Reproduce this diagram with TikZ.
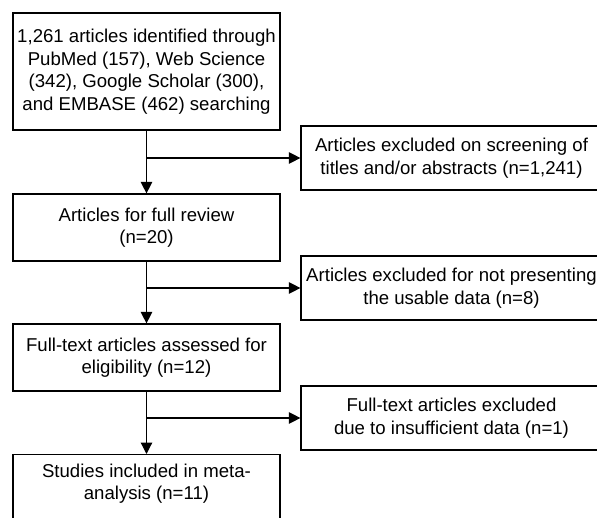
\documentclass[tikz,border=0pt]{standalone}
\usepackage{fontspec}
\setmainfont{Liberation Sans}
\usetikzlibrary{arrows.meta}
\begin{document}
\begin{tikzpicture}[x=1pt,y=-1pt,
  box/.style={draw=black,line width=1.2pt,rectangle,inner sep=0pt,align=center,
    font=\fontsize{18.6}{22.5}\selectfont},
  txt/.style={inner sep=0pt,align=center,font=\fontsize{18.6}{22.5}\selectfont},
  arr/.style={line width=1.2pt,-{Triangle[length=11.5pt,width=11.5pt]}},
  ln/.style={line width=1.2pt}]
\useasboundingbox (0,0) rectangle (597,518);
\clip (0,0) rectangle (597,518);
\node[box,minimum width=267,minimum height=117] (b1) at (146.5,71.5)
  {1,261 articles identified through\\PubMed (157), Web Science\\(342), Google Scholar (300),\\and EMBASE (462) searching};
\node[box,minimum width=267,minimum height=67] (b2) at (146.5,227.5)
  {Articles for full review\\(n=20)};
\node[box,minimum width=267,minimum height=67] (b3) at (146.5,357.5)
  {Full-text articles assessed for\\eligibility (n=12)};
\node[box,minimum width=267,minimum height=80,anchor=north] (b4) at (146.5,454) {};
\node[txt] (b4t) at (146.5,483.5) {Studies included in meta-\\analysis (n=11)};
\node[box,minimum width=301,minimum height=64] (r1) at (451.5,158)
  {Articles excluded on screening of\\titles and/or abstracts (n=1,241)};
\node[box,minimum width=301,minimum height=64] (r2) at (451.5,288)
  {Articles excluded for not presenting\\the usable data (n=8)};
\node[box,minimum width=301,minimum height=64] (r3) at (451.5,418)
  {Full-text articles excluded\\due to insufficient data (n=1)};
\draw[arr] (b1.south) -- (b2.north);
\draw[arr] (b2.south) -- (b3.north);
\draw[arr] (b3.south) -- (b4.north);
\draw[arr] (b1.south |- r1.west) -- (r1.west);
\draw[arr] (b2.south |- r2.west) -- (r2.west);
\draw[arr] (b3.south |- r3.west) -- (r3.west);
\end{tikzpicture}
\end{document}
